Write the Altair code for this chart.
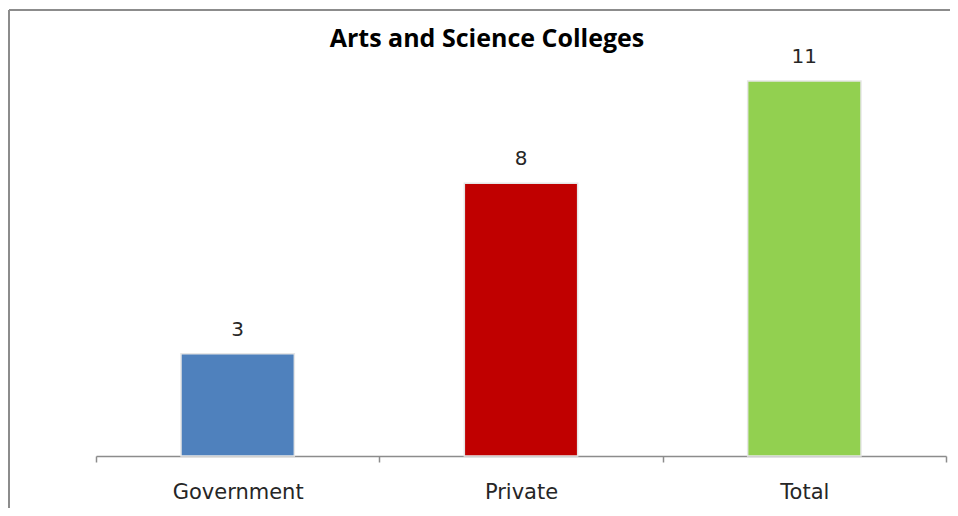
import altair as alt
import pandas as pd

categories = ["Government", "Private", "Total"]
values = [3, 8, 11]
colors = ["#4F81BD", "#C00000", "#92D050"]

df = pd.DataFrame({"category": categories, "value": values, "color": colors})

W, H = 850, 409

x_enc = alt.X(
    "category:N",
    sort=categories,
    title=None,
    scale=alt.Scale(paddingInner=0, paddingOuter=0),
    axis=alt.Axis(
        tickBand="extent",
        domainColor="#8c8c8c",
        domainWidth=1.5,
        tickColor="#8c8c8c",
        tickWidth=1.5,
        tickSize=6,
        labelFont="DejaVu Sans",
        labelFontSize=21,
        labelColor="#262626",
        labelPadding=19,
        labelAngle=0,
        grid=False,
    ),
)
y_enc = alt.Y("value:Q", scale=alt.Scale(domain=[0, 12]), axis=None)

bars = alt.Chart(df).mark_bar(
    width=alt.RelativeBandSize(0.4),
    stroke="#e6e6e6",
    strokeWidth=1.5,
).encode(
    x=x_enc,
    y=y_enc,
    color=alt.Color("color:N", scale=None),
)

labels = alt.Chart(df).mark_text(
    baseline="bottom",
    dy=-14,
    font="DejaVu Sans",
    fontSize=20,
    color="#262626",
).encode(x=x_enc, y=y_enc, text="value:Q")

frame_base = alt.Chart(df).transform_filter(alt.datum.category == "Total")
frame_top = frame_base.mark_rule(stroke="#8c8c8c", strokeWidth=2, clip=False).encode(
    x=alt.value(-87), x2=alt.value(W + 40), y=alt.value(-37)
)
frame_left = frame_base.mark_rule(stroke="#8c8c8c", strokeWidth=2, clip=False).encode(
    x=alt.value(-87), y=alt.value(-37), y2=alt.value(H + 80)
)

chart = alt.layer(frame_top, frame_left, bars, labels).properties(
    width=W,
    height=H,
    padding={"left": 88, "top": 39, "right": 4, "bottom": 52},
    autosize=alt.AutoSizeParams(type="none"),
    background="white",
    title=alt.TitleParams(
        "Arts and Science Colleges",
        font="Open Sans",
        fontSize=25,
        fontWeight="bold",
        color="#000000",
        anchor="middle",
        dx=-34,
        offset=-43,
    ),
).configure_view(stroke=None)

chart.save("out.html", embed_options={"renderer": "svg", "actions": False})
